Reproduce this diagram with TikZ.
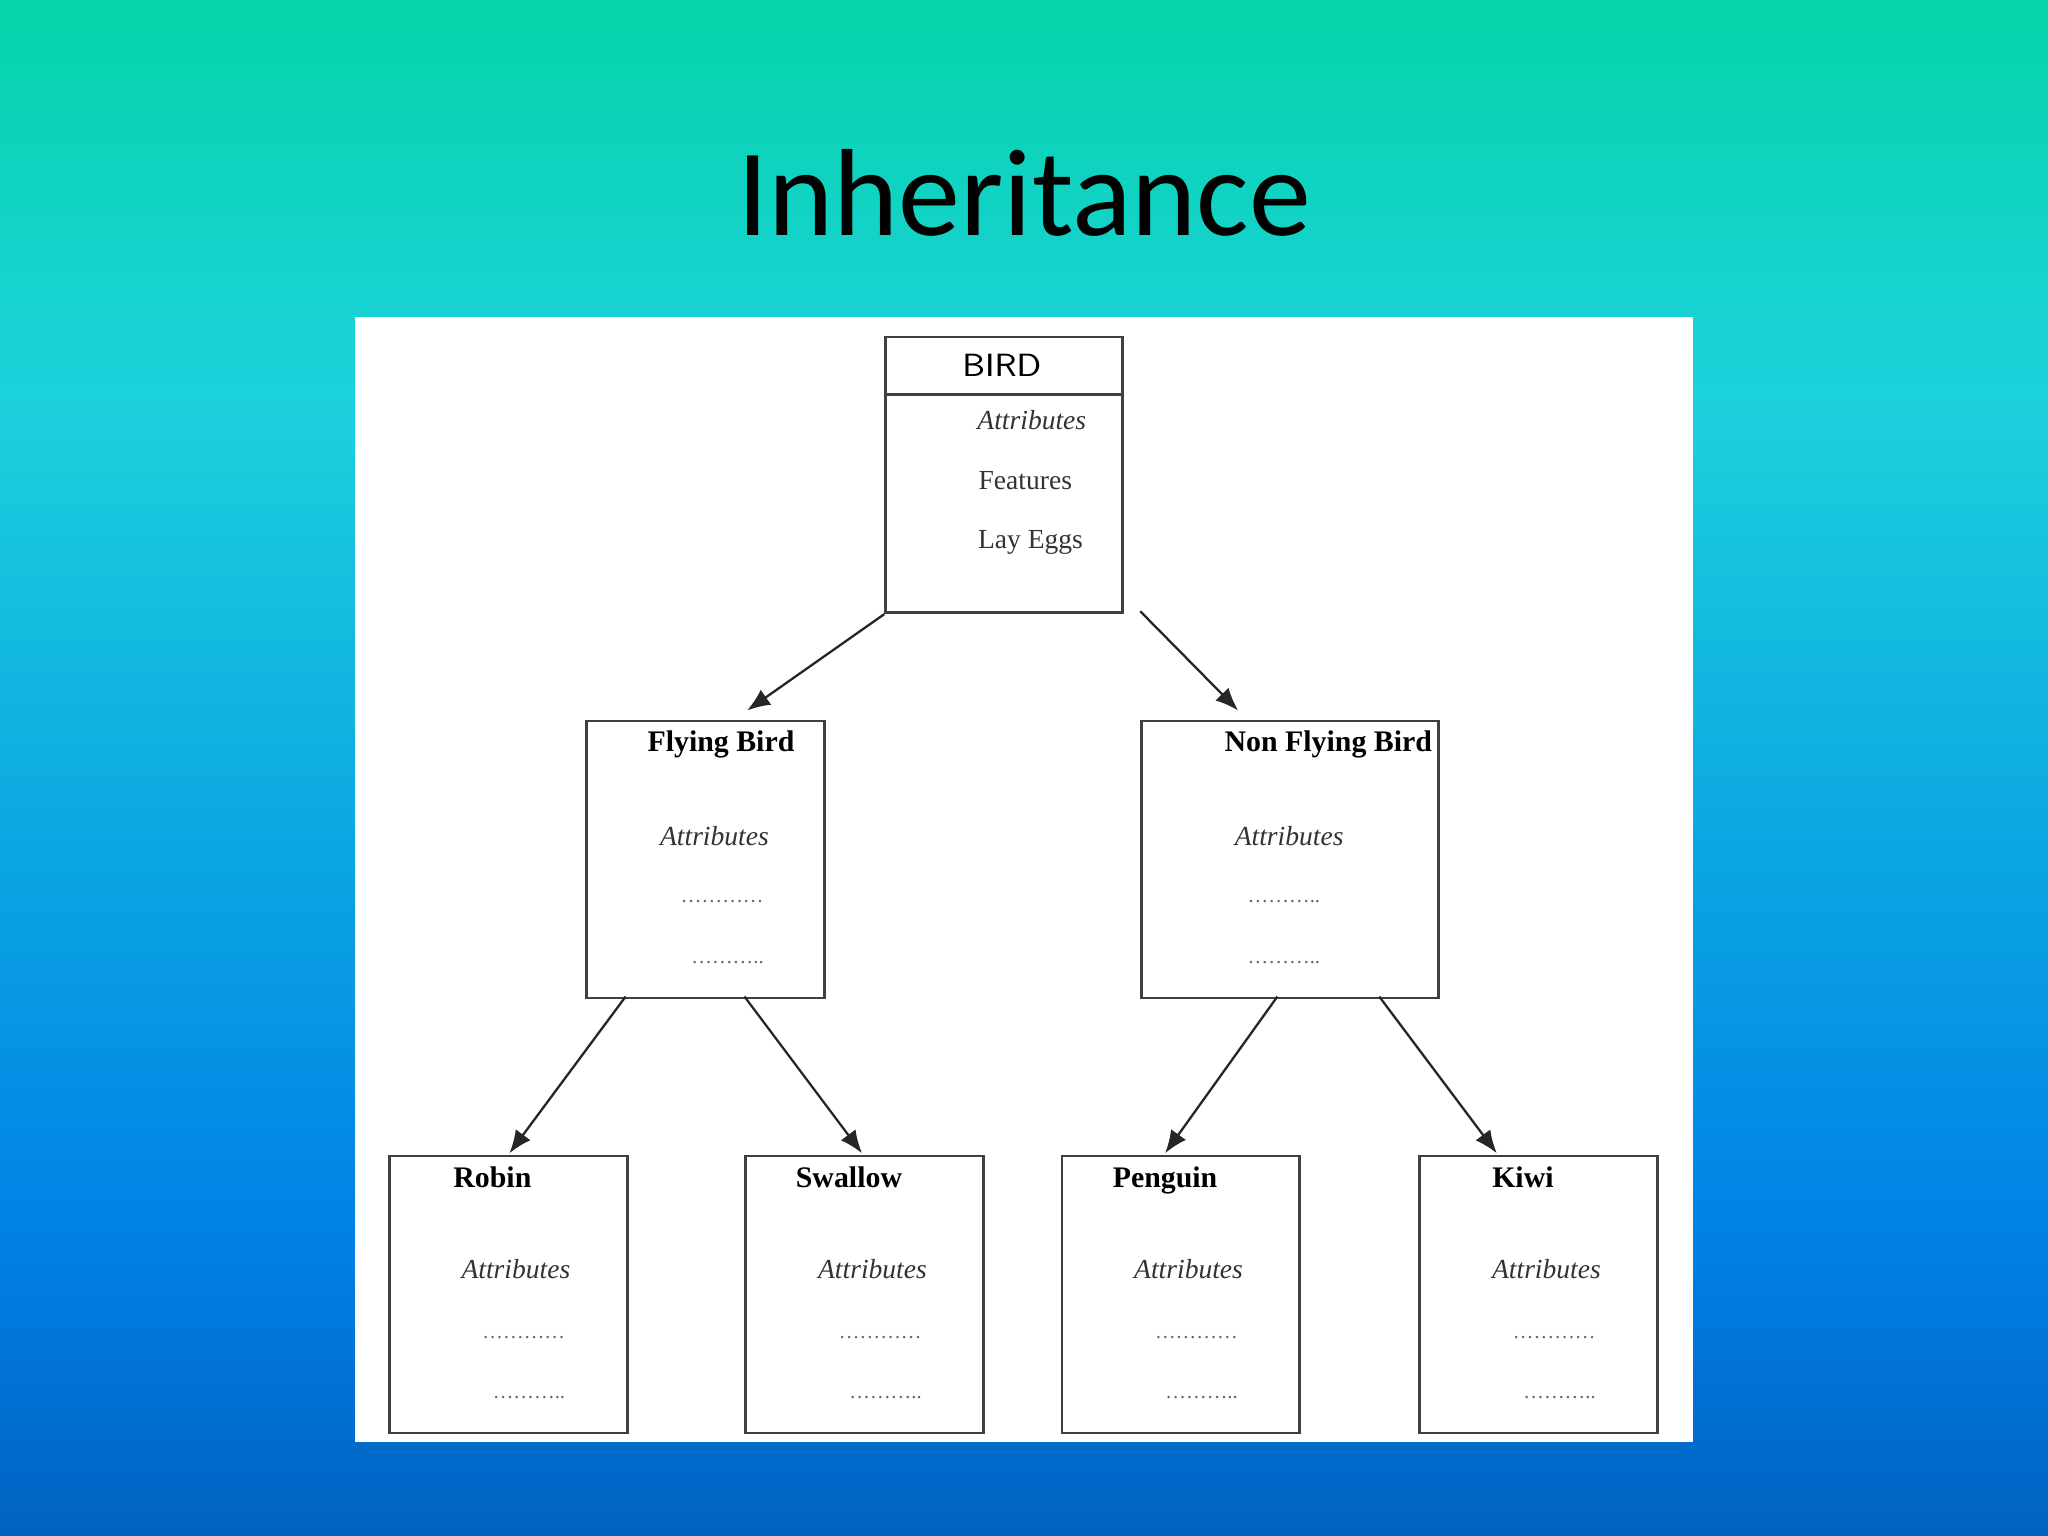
\documentclass[tikz,border=0pt]{standalone}
\usepackage{fontspec}
\setmainfont{Liberation Serif}
\newfontfamily\titlefont{Carlito}
\usetikzlibrary{arrows.meta}
\definecolor{bgtop}{HTML}{05D4AA}
\definecolor{bgcyan}{HTML}{1CD2DC}
\definecolor{bgmid}{HTML}{0BA6E2}
\definecolor{bgmid2}{HTML}{0180E6}
\definecolor{bgbot}{HTML}{0062C0}
\tikzset{
  box/.style={draw=black!75,line width=0.6pt,fill=white,anchor=north west,inner sep=0pt},
  ttl/.style={font=\fontsize{6.5}{8}\selectfont\bfseries},
  attr/.style={font=\fontsize{6}{7}\selectfont\itshape,text=black!80},
  plain/.style={font=\fontsize{6}{7}\selectfont,text=black!80},
  dots/.style={font=\fontsize{4.5}{5}\selectfont,text=black!60},
  arr/.style={-{Latex[length=5pt,width=4pt]},line width=0.5pt,black!85}
}
\begin{document}
\begin{tikzpicture}[x=0.01cm,y=-0.01cm]
\useasboundingbox (0,0) rectangle (1568,1176);
\fill[top color=bgtop,bottom color=bgcyan] (0,0) rectangle (1568,301);
\fill[top color=bgcyan,bottom color=bgmid] (0,300) rectangle (1568,651);
\fill[top color=bgmid,bottom color=bgmid2] (0,650) rectangle (1568,951);
\fill[top color=bgmid2,bottom color=bgbot] (0,950) rectangle (1568,1176);
\fill[white] (272,243) rectangle (1296,1104);
\node[font=\titlefont\fontsize{27}{32}\selectfont] (title) at (784,148) {Inheritance};
% BIRD
\node[box,minimum width=1.81cm,minimum height=2.11cm] (bird) at (677,257) {};
\draw[black!75,line width=0.6pt] (677,302) -- (858,302);
\node[font=\sffamily\fontsize{7}{9}\selectfont] (birdt) at (767,280) {BIRD};
\node[attr] (ba) at (790,322) {Attributes};
\node[plain] (bf) at (785,368) {Features};
\node[plain] (bl) at (789,415) {Lay Eggs};
% Flying
\node[box,minimum width=1.82cm,minimum height=2.12cm] (fly) at (448,551) {};
\node[ttl] (flyt) at (552,570) {Flying Bird};
\node[attr] (flya) at (547,640) {Attributes};
\node[dots] (flyd1) at (553,690) {\ldots\ldots\ldots\ldots};
\node[dots] (flyd2) at (557,737) {\ldots\ldots\ldots..};
% Non flying
\node[box,minimum width=2.27cm,minimum height=2.12cm] (non) at (873,551) {};
\node[ttl] (nont) at (1017,570) {Non Flying Bird};
\node[attr] (nona) at (987,640) {Attributes};
\node[dots] (nond1) at (983,690) {\ldots\ldots\ldots..};
\node[dots] (nond2) at (983,737) {\ldots\ldots\ldots..};
% bottom
\foreach \n/\x/\t in {robin/297/Robin,swallow/570/Swallow,penguin/812/Penguin,kiwi/1086/Kiwi}{
  \node[box,minimum width=1.82cm,minimum height=2.12cm] (\n) at (\x,884) {};
  \node[ttl,anchor=base] (\n t) at (\x+80,909) {\t};
  \node[attr] (\n a) at (\x+98,972) {Attributes};
  \node[dots] (\n d1) at (\x+104,1024) {\ldots\ldots\ldots\ldots};
  \node[dots] (\n d2) at (\x+108,1070) {\ldots\ldots\ldots..};
}
\coordinate (e1) at (572,544);
\coordinate (s2) at (873,468);
\coordinate (e2) at (948,544);
\coordinate (s3) at (479,763);
\coordinate (e3) at (390,883);
\coordinate (s4) at (570,763);
\coordinate (e4) at (660,883);
\coordinate (s5) at (978,763);
\coordinate (e5) at (892,883);
\coordinate (s6) at (1056,763);
\coordinate (e6) at (1146,883);
\draw[arr] (bird.south west) -- (e1);
\draw[arr] (s2) -- (e2);
\draw[arr] (s3) -- (e3);
\draw[arr] (s4) -- (e4);
\draw[arr] (s5) -- (e5);
\draw[arr] (s6) -- (e6);
\end{tikzpicture}
\end{document}
